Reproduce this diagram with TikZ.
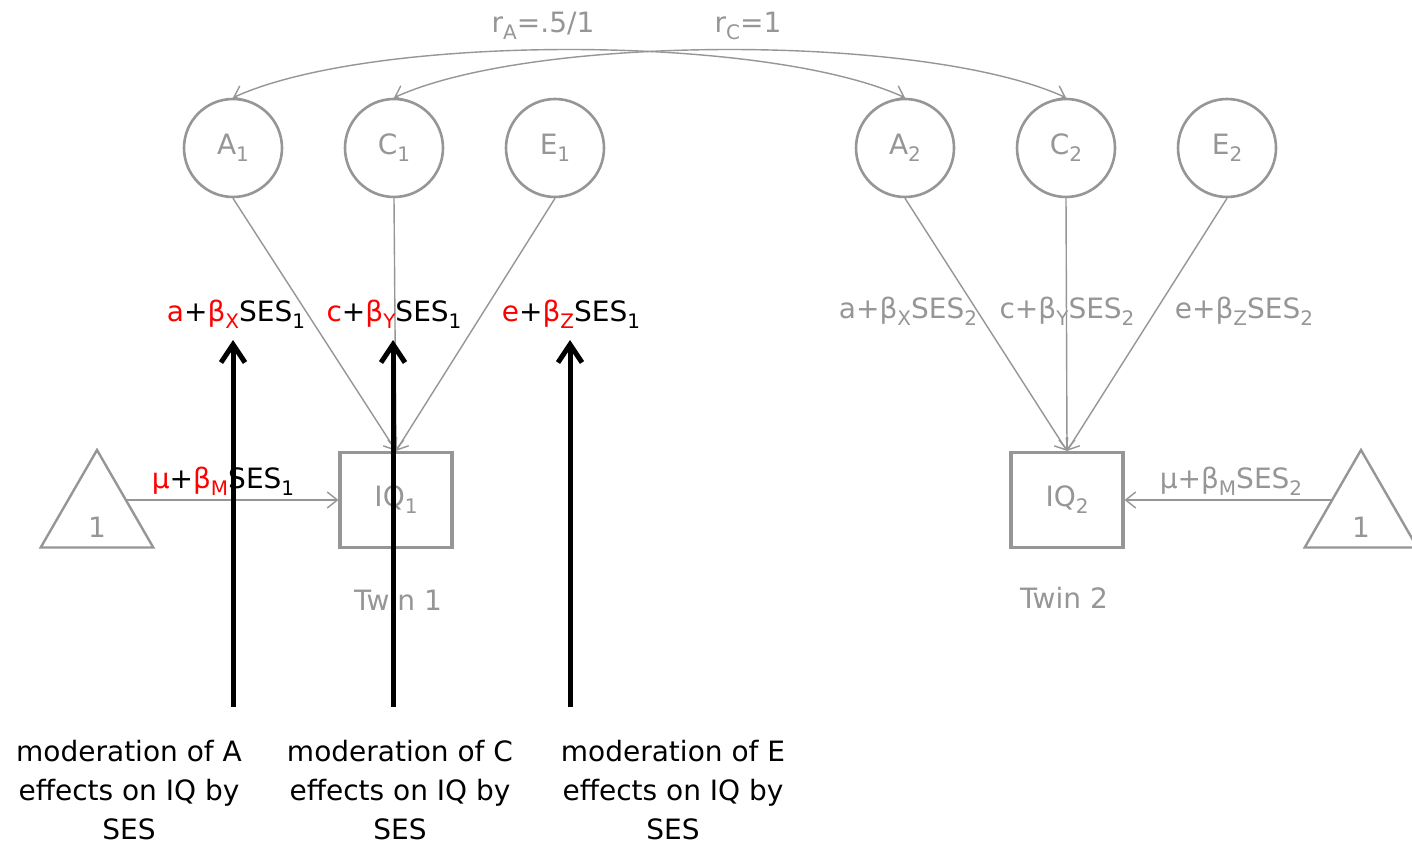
\documentclass[tikz,border=0pt]{standalone}
\usepackage{fontspec}
\setmainfont{DejaVu Sans}
\usetikzlibrary{positioning, arrows.meta, shapes.geometric}
\definecolor{fadeGrey}{RGB}{150,150,150}
\definecolor{modRed}{RGB}{255,0,0}
\tikzstyle{diagram} = [x = .5pt, y = -.5pt, every node/.style={font=\fontsize{14}{19.5}\selectfont}]
\tikzstyle{latentStyle} = [circle, draw=fadeGrey, line width=1.3pt, minimum size=49pt, inner sep=0pt, text=fadeGrey]
\tikzstyle{manifestStyle} = [rectangle, draw=fadeGrey, line width=1.6pt, minimum width=56pt, minimum height=47.5pt, inner sep=0pt, text=fadeGrey]
\tikzstyle{unitStyle} = [regular polygon, regular polygon sides=3, draw=fadeGrey, line width=1.2pt, minimum size=65pt, inner sep=0pt]
\tikzstyle{pathLine} = [draw=fadeGrey, line width=.7pt, -{Straight Barb[length=5pt, width=8pt]}]
\tikzstyle{covLine} = [draw=fadeGrey, line width=.7pt, {Straight Barb[length=5pt, width=8pt]}-{Straight Barb[length=5pt, width=8pt]}]
\tikzstyle{fadedText} = [text=fadeGrey, anchor=base, inner sep=0pt]
\tikzstyle{pathText} = [anchor=base, inner sep=0pt]
\tikzstyle{modArrow} = [line width=2.5pt, -{Straight Barb[length=9pt, width=12pt]}]
\tikzstyle{modText} = [align=center, inner sep=0pt]
\newcommand{\lowr}[1]{\raisebox{-.25em}{\fontsize{10}{10}\selectfont #1}}
\newcommand{\red}[1]{\textcolor{modRed}{#1}}
\newcommand{\latentNode}[3]{\node [latentStyle] (#1) at (#2, 148) {#3};}
\newcommand{\modPointer}[2]{
  \coordinate (foot#1) at (#2, 707);
  \coordinate (tip#1) at (#2, 340);
  \draw [modArrow] (foot#1) -- (tip#1);
}

\begin{document}
\begin{tikzpicture}[diagram]
  \path [fill=white, use as bounding box] (0,0) rectangle (1412,845);
  % twin 1
  \latentNode{A1}{233}{A\lowr{1}}
  \latentNode{C1}{394}{C\lowr{1}}
  \latentNode{E1}{555}{E\lowr{1}}
  \node [manifestStyle] (IQ1) at (396,500) {IQ\lowr{1}};
  \node [unitStyle] (U1) at (97,515) {};
  \node [fadedText] (one1) at (97,537) {1};
  \node [fadedText] (twin1) at (398,610) {Twin 1};
  % twin 2
  \latentNode{A2}{905}{A\lowr{2}}
  \latentNode{C2}{1066}{C\lowr{2}}
  \latentNode{E2}{1227}{E\lowr{2}}
  \node [manifestStyle] (IQ2) at (1067,500) {IQ\lowr{2}};
  \node [unitStyle] (U2) at (1361,515) {};
  \node [fadedText] (one2) at (1361,537) {1};
  \node [fadedText] (twin2) at (1064,608) {Twin 2};
  % paths
  \foreach \twin in {1,2} {
    \foreach \factor in {A,C,E} {
      \draw [pathLine] (\factor\twin.south) -- (IQ\twin.north);
    }
  }
  \draw [pathLine] (IQ1.west -| U1.side 3) -- (IQ1.west);
  \draw [pathLine] (IQ2.east -| U2.side 1) -- (IQ2.east);
  \draw [covLine] (A1.north) .. controls +(140,-64) and +(-140,-64) .. (A2.north);
  \draw [covLine] (C1.north) .. controls +(140,-64) and +(-140,-64) .. (C2.north);
  \node [fadedText] (rA) at (543,33) {r\lowr{A}=.5/1};
  \node [fadedText] (rC) at (748,33) {r\lowr{C}=1};
  % path labels
  \node [fadedText] (a2) at (908,318) {a+β\lowr{X}SES\lowr{2}};
  \node [fadedText] (c2) at (1067,318) {c+β\lowr{Y}SES\lowr{2}};
  \node [fadedText] (e2) at (1244,318) {e+β\lowr{Z}SES\lowr{2}};
  \node [fadedText] (m2) at (1231,488) {μ+β\lowr{M}SES\lowr{2}};
  \node [pathText] (a1) at (236,321) {\red{a}+\red{β\lowr{X}}SES\lowr{1}};
  \node [pathText] (c1) at (394,321) {\red{c}+\red{β\lowr{Y}}SES\lowr{1}};
  \node [pathText] (e1) at (571,321) {\red{e}+\red{β\lowr{Z}}SES\lowr{1}};
  \node [pathText] (m1) at (223,488) {\red{μ}+\red{β\lowr{M}}SES\lowr{1}};
  % moderation
  \modPointer{A}{233}
  \modPointer{C}{393}
  \modPointer{E}{570}
  \node [modText] (modA) at (129,790) {moderation of A\\effects on IQ by\\SES};
  \node [modText] (modC) at (400,790) {moderation of C\\effects on IQ by\\SES};
  \node [modText] (modE) at (673,790) {moderation of E\\effects on IQ by\\SES};
\end{tikzpicture}
\end{document}
